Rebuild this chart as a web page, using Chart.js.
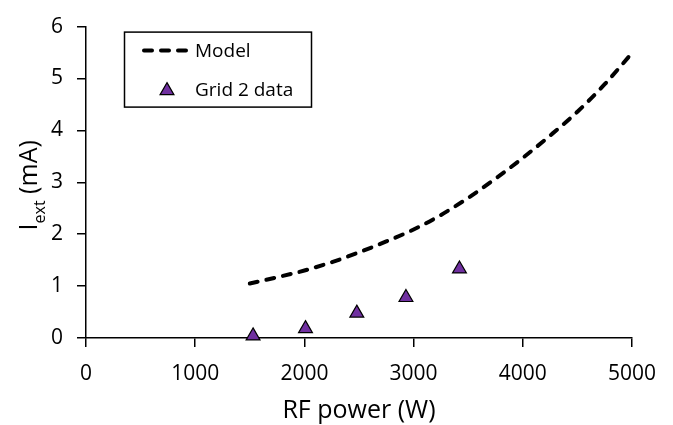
<!DOCTYPE html>
<html>
<head>
<meta charset="utf-8">
<script src="https://cdn.jsdelivr.net/npm/chart.js@4.4.1/dist/chart.umd.min.js"></script>
<style>
  html, body { margin: 0; padding: 0; background: #fff; }
</style>
</head>
<body>
<canvas id="chart" width="673" height="425"></canvas>
<script>
// Model curve (RF power in W, extracted current in mA)
const modelPower = [1500, 1750, 2000, 2250, 2500, 2750, 3000, 3250, 3500, 3750, 4000, 4250, 4500, 4750, 5000];
const modelCurrent = [1.05, 1.17, 1.30, 1.46, 1.65, 1.86, 2.09, 2.37, 2.70, 3.07, 3.47, 3.90, 4.36, 4.89, 5.49];

// Measured points, grid 2
const gridPower = [1530, 2010, 2480, 2930, 3420];
const gridCurrent = [0.04, 0.18, 0.48, 0.78, 1.33];

const xTicks = [0, 1000, 2000, 3000, 4000, 5000];
const yTicks = [0, 1, 2, 3, 4, 5, 6];

const FONT = '"Open Sans", "Noto Sans", sans-serif';
const INK = '#000';

const toPoints = (xs, ys) => xs.map((x, i) => ({ x, y: ys[i] }));

// titles: the y one needs a subscript, so both are drawn by hand
const axisTitles = {
  id: 'axisTitles',
  afterDraw(chart) {
    const { ctx, chartArea } = chart;
    ctx.save();
    ctx.fillStyle = INK;
    ctx.textBaseline = 'alphabetic';

    ctx.font = '25px ' + FONT;
    ctx.textAlign = 'center';
    ctx.fillText('RF power (W)', (chartArea.left + chartArea.right) / 2, 418);

    ctx.textAlign = 'left';
    ctx.translate(37, (chartArea.top + chartArea.bottom) / 2 + 3);
    ctx.rotate(-Math.PI / 2);
    ctx.font = '25px ' + FONT;
    const wI = ctx.measureText('I').width;
    const wRest = ctx.measureText(' (mA)').width;
    ctx.font = '16px ' + FONT;
    const wSub = ctx.measureText('ext').width;
    let x = -(wI + wSub + wRest) / 2;
    ctx.font = '25px ' + FONT;
    ctx.fillText('I', x, 0);
    x += wI;
    ctx.font = '16px ' + FONT;
    ctx.fillText('ext', x, 8);
    x += wSub;
    ctx.font = '25px ' + FONT;
    ctx.fillText(' (mA)', x, 0);
    ctx.restore();
  }
};

// boxed legend in the upper left of the plot
const legendBox = {
  id: 'legendBox',
  afterDraw(chart) {
    const { ctx, chartArea } = chart;
    const [model, grid] = chart.data.datasets;
    const left = chartArea.left + 38;
    const top = chartArea.top + 5;
    ctx.save();
    ctx.strokeStyle = INK;
    ctx.lineWidth = 1.5;
    ctx.strokeRect(left + 0.5, top + 0.5, 187, 75);

    ctx.strokeStyle = model.borderColor;
    ctx.lineWidth = model.borderWidth;
    ctx.lineCap = model.borderCapStyle;
    ctx.setLineDash(model.borderDash);
    ctx.beginPath();
    ctx.moveTo(left + 20, top + 19);
    ctx.lineTo(left + 63, top + 19);
    ctx.stroke();
    ctx.setLineDash([]);
    ctx.lineCap = 'butt';

    const cx = left + 43, cy = top + 59, r = grid.pointRadius;
    ctx.beginPath();
    ctx.moveTo(cx, cy - r);
    ctx.lineTo(cx + r * Math.sin(Math.PI / 3), cy + r / 2);
    ctx.lineTo(cx - r * Math.sin(Math.PI / 3), cy + r / 2);
    ctx.closePath();
    ctx.fillStyle = grid.backgroundColor;
    ctx.fill();
    ctx.strokeStyle = grid.borderColor;
    ctx.lineWidth = grid.borderWidth;
    ctx.stroke();

    ctx.fillStyle = INK;
    ctx.font = '19px ' + FONT;
    ctx.textBaseline = 'middle';
    ctx.fillText(model.label, left + 71, top + 20);
    ctx.fillText(grid.label, left + 71, top + 59);
    ctx.restore();
  }
};

const axisStyle = {
  grid: { drawOnChartArea: false, drawTicks: true, tickLength: 9, color: INK, lineWidth: 1.5 },
  border: { display: true, color: INK, width: 1.5 },
};

const plainNumber = (value) => String(value);

new Chart(document.getElementById('chart'), {
  type: 'scatter',
  data: {
    datasets: [
      {
        label: 'Model',
        data: toPoints(modelPower, modelCurrent),
        showLine: true,
        borderColor: INK,
        borderWidth: 4,
        borderDash: [8, 9],
        borderCapStyle: 'round',
        cubicInterpolationMode: 'monotone',
        pointRadius: 0,
        clip: false,
      },
      {
        label: 'Grid 2 data',
        data: toPoints(gridPower, gridCurrent),
        showLine: false,
        pointStyle: 'triangle',
        pointRadius: 8,
        pointHoverRadius: 8,
        backgroundColor: '#7030A0',
        borderColor: INK,
        borderWidth: 1.2,
        clip: false,
      },
    ],
  },
  options: {
    responsive: false,
    animation: false,
    events: [],
    layout: { padding: { top: 19, right: 41, bottom: 0, left: 0 } },
    plugins: { legend: { display: false }, tooltip: { enabled: false } },
    scales: {
      x: {
        type: 'linear',
        min: xTicks[0],
        max: xTicks[xTicks.length - 1],
        afterBuildTicks: (scale) => { scale.ticks = xTicks.map((value) => ({ value })); },
        afterFit: (scale) => { scale.height = 87; },
        ticks: { color: INK, font: { family: FONT, size: 21 }, padding: 14, maxRotation: 0, callback: plainNumber },
        ...axisStyle,
      },
      y: {
        type: 'linear',
        min: yTicks[0],
        max: yTicks[yTicks.length - 1],
        afterBuildTicks: (scale) => { scale.ticks = yTicks.map((value) => ({ value })); },
        afterFit: (scale) => { scale.width = 86; },
        ticks: { color: INK, font: { family: FONT, size: 21 }, padding: 14, callback: plainNumber },
        ...axisStyle,
      },
    },
  },
  plugins: [axisTitles, legendBox],
});
</script>
</body>
</html>
